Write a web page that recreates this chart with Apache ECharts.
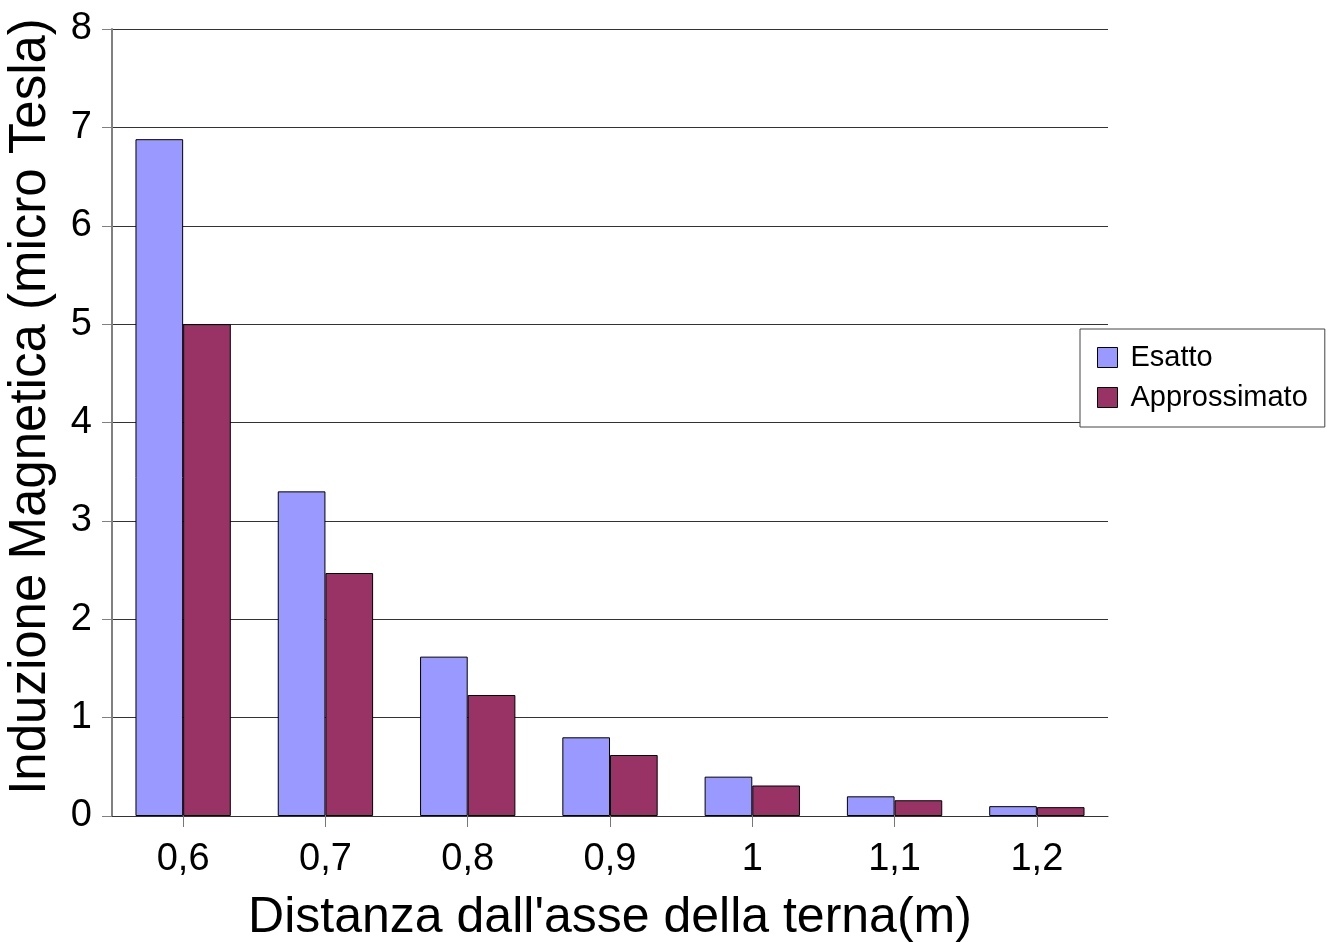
<!DOCTYPE html>
<html>
<head>
<meta charset="utf-8">
<script src="https://cdn.jsdelivr.net/npm/echarts@6/dist/echarts.min.js"></script>
<style>
  html, body { margin: 0; padding: 0; background: #ffffff; }
  #chart { width: 1330px; height: 942px; }
</style>
</head>
<body>
<div id="chart"></div>
<script>
// Distance from the axis of the three-phase line (m)
const categories = ['0,6', '0,7', '0,8', '0,9', '1', '1,1', '1,2'];
// Magnetic induction (microtesla)
const esatto = [6.88, 3.30, 1.62, 0.80, 0.40, 0.20, 0.10];
const approssimato = [5.00, 2.47, 1.23, 0.62, 0.31, 0.16, 0.09];
const yTicks = [0, 1, 2, 3, 4, 5, 6, 7, 8];

const FONT = '"Liberation Sans", Arial, sans-serif';

const chart = echarts.init(document.getElementById('chart'), null, { renderer: 'canvas' });

chart.setOption({
  animation: false,
  backgroundColor: '#ffffff',
  textStyle: { fontFamily: FONT },
  grid: {
    left: 112, right: 222, top: 29, bottom: 126,
    containLabel: false,
    outerBoundsMode: 'none'
  },
  legend: {
    orient: 'vertical',
    left: 1080,
    top: 329,
    padding: [14, 17, 15, 17],
    itemGap: 11,
    itemWidth: 20,
    itemHeight: 20,
    borderColor: '#444444',
    borderWidth: 1,
    backgroundColor: '#ffffff',
    icon: 'rect',
    itemStyle: { borderColor: '#000000', borderWidth: 1 },
    textStyle: {
      fontFamily: FONT, fontSize: 29, lineHeight: 29,
      color: '#000000', padding: [0, 0, 0, 8]
    },
    data: ['Esatto', 'Approssimato']
  },
  xAxis: {
    type: 'category',
    data: categories,
    boundaryGap: true,
    name: "Distanza dall'asse della terna(m)",
    nameLocation: 'middle',
    nameGap: 77,
    nameTextStyle: { fontFamily: FONT, fontSize: 50, color: '#000000' },
    axisLine: { lineStyle: { color: '#333333', width: 1 } },
    axisTick: { show: true, alignWithLabel: true, length: 11, lineStyle: { color: '#777777' } },
    axisLabel: { fontFamily: FONT, fontSize: 38, color: '#000000', margin: 25 },
    splitLine: { show: false }
  },
  yAxis: {
    type: 'value',
    min: yTicks[0],
    max: yTicks[yTicks.length - 1],
    interval: 1,
    name: 'Induzione Magnetica (micro Tesla)',
    nameLocation: 'middle',
    nameGap: 56,
    nameRotate: 90,
    nameTextStyle: { fontFamily: FONT, fontSize: 51, color: '#000000', padding: [0, 0, 0, 32] },
    axisLine: { show: true, lineStyle: { color: '#808080', width: 2 } },
    axisTick: { show: true, length: 10, lineStyle: { color: '#808080' } },
    axisLabel: { fontFamily: FONT, fontSize: 38, color: '#000000', margin: 20 },
    splitLine: { show: true, lineStyle: { color: '#333333', width: 1 } }
  },
  series: [
    {
      name: 'Esatto',
      type: 'bar',
      data: esatto,
      barGap: '0%',
      barCategoryGap: '33%',
      itemStyle: { color: '#9999FF', borderColor: '#000000', borderWidth: 1 }
    },
    {
      name: 'Approssimato',
      type: 'bar',
      data: approssimato,
      barGap: '0%',
      barCategoryGap: '33%',
      itemStyle: { color: '#993366', borderColor: '#000000', borderWidth: 1 }
    }
  ]
});
</script>
</body>
</html>
